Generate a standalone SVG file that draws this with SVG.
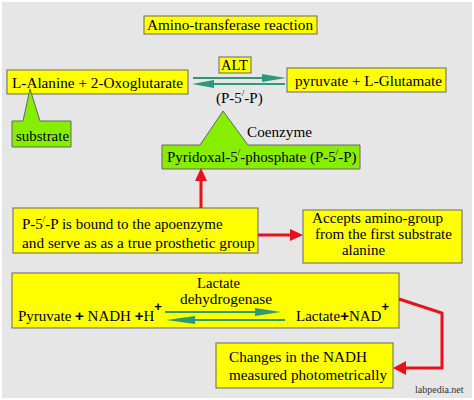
<svg xmlns="http://www.w3.org/2000/svg" width="474" height="400" viewBox="0 0 474 400">
<style>
.t{font-family:"Liberation Serif","Times New Roman",serif;font-size:15px;fill:#000}
.y{fill:#ffff00;stroke:#666;stroke-width:1}
.g{fill:#88ee00;stroke:#666;stroke-width:1}
.teal{stroke:#2a9a78;stroke-width:2;fill:none}
.tealh{fill:#2a9a78}
.red{stroke:#e8101a;stroke-width:3;fill:none}
.redh{fill:#e8101a}
</style>
<rect x="0" y="0" width="474" height="400" fill="#ffffff"/>
<rect x="2" y="2" width="470" height="396" fill="#e6e6e6"/>

<g id="title">
<rect class="y" x="144" y="16" width="173" height="18"/>
<text class="t" x="147" y="30" textLength="166" lengthAdjust="spacingAndGlyphs">Amino-transferase reaction</text>
</g>
<g id="alt">
<rect class="y" x="219" y="57" width="32" height="16"/>
<text class="t" x="221" y="70" textLength="27" lengthAdjust="spacingAndGlyphs">ALT</text>
</g>
<g id="substrates">
<rect class="y" x="7" y="70" width="181" height="24"/>
<text class="t" x="12" y="88" textLength="171" lengthAdjust="spacingAndGlyphs">L-Alanine + 2-Oxoglutarate</text>
</g>
<g id="products">
<rect class="y" x="287" y="68" width="159" height="24"/>
<text class="t" x="295" y="86" textLength="147" lengthAdjust="spacingAndGlyphs">pyruvate + L-Glutamate</text>
</g>
<g id="p5p-label">
<text class="t" x="216" y="103">(P-5<tspan font-size="9" dy="-7">/</tspan><tspan dy="7">-P)</tspan></text>
</g>
<g id="substrate">
<path class="g" d="M12,121 L23,121 L30,89 L40,121 L71,121 L71,147 L12,147 Z"/>
<text class="t" x="16" y="141" textLength="53" lengthAdjust="spacingAndGlyphs">substrate</text>
</g>
<g id="coenzyme">
<path class="g" d="M162,145 L200,145 L223,111 L248,145 L360,145 L360,169 L162,169 Z"/>
<text class="t" x="247" y="137" textLength="65" lengthAdjust="spacingAndGlyphs">Coenzyme</text>
<text class="t" x="167" y="162">Pyridoxal-5<tspan font-size="9" dy="-7">/</tspan><tspan dy="7">-phosphate (P-5</tspan><tspan font-size="9" dy="-7">/</tspan><tspan dy="7">-P)</tspan></text>
</g>
<g id="bound">
<rect class="y" x="13" y="208" width="245" height="45"/>
<text class="t" x="22" y="229">P-5<tspan font-size="9" dy="-7">/</tspan><tspan dy="7">-P is bound to the apoenzyme</tspan></text>
<text class="t" x="22" y="248" textLength="233" lengthAdjust="spacingAndGlyphs">and serve as as a true prosthetic group</text>
</g>
<g id="accepts">
<rect class="y" x="303" y="210" width="159" height="53"/>
<text class="t" x="312" y="223" textLength="131" lengthAdjust="spacingAndGlyphs">Accepts amino-group</text>
<text class="t" x="315" y="239" textLength="137" lengthAdjust="spacingAndGlyphs">from the first substrate</text>
<text class="t" x="342" y="255" textLength="43" lengthAdjust="spacingAndGlyphs">alanine</text>
</g>
<g id="ldh">
<rect class="y" x="12" y="273" width="387" height="55"/>
<text class="t" x="197" y="288" textLength="43" lengthAdjust="spacingAndGlyphs">Lactate</text>
<text class="t" x="180" y="304" textLength="92" lengthAdjust="spacingAndGlyphs">dehydrogenase</text>
<text class="t" x="18" y="321">Pyruvate <tspan font-family="Liberation Sans,Arial,sans-serif" font-weight="bold">+</tspan> NADH <tspan font-family="Liberation Sans,Arial,sans-serif" font-weight="bold">+</tspan>H<tspan font-family="Liberation Sans,Arial,sans-serif" font-weight="bold" font-size="13" dy="-10">+</tspan></text>
<text class="t" x="296" y="321">Lactate<tspan font-family="Liberation Sans,Arial,sans-serif" font-weight="bold">+</tspan>NAD<tspan font-family="Liberation Sans,Arial,sans-serif" font-weight="bold" font-size="13" dy="-10">+</tspan></text>
</g>
<g id="changes">
<rect class="y" x="216" y="343" width="177" height="45"/>
<text class="t" x="229" y="362" textLength="138" lengthAdjust="spacingAndGlyphs">Changes in the NADH</text>
<text class="t" x="229" y="380" textLength="158" lengthAdjust="spacingAndGlyphs">measured photometrically</text>
</g>
<text x="415" y="393" font-family="Liberation Serif,serif" font-size="10" fill="#333">labpedia.net</text>

<g id="connectors">
<line class="teal" x1="193" y1="78" x2="268" y2="78"/>
<polygon class="tealh" points="262,74 286,78 262,82"/>
<line class="teal" x1="285" y1="84" x2="208" y2="84"/>
<polygon class="tealh" points="214,80 192,84 214,88"/>
<line class="teal" x1="165" y1="312" x2="262" y2="312"/>
<polygon class="tealh" points="255,308 281,312 255,316"/>
<line class="teal" x1="285" y1="320" x2="185" y2="320"/>
<polygon class="tealh" points="195,316 166,320 195,324"/>
<line class="red" x1="201" y1="208" x2="201" y2="178"/>
<polygon class="redh" points="195,181 201,168 207,181"/>
<line class="red" x1="258" y1="235" x2="292" y2="235"/>
<polygon class="redh" points="290,229 303,235 290,241"/>
<polyline class="red" points="399,299 442,313 442,368 404,368"/>
<polygon class="redh" points="406,361 393,368 406,375"/>
</g>
</svg>
